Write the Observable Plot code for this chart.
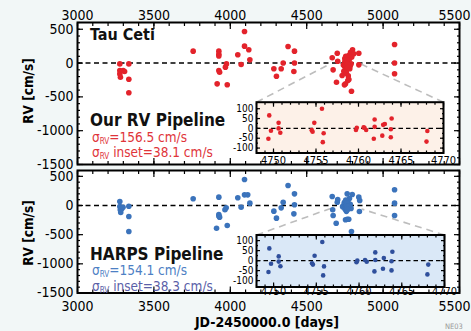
<!DOCTYPE html>
<html><head><meta charset="utf-8">
<script src="https://cdn.jsdelivr.net/npm/d3@7"></script>
<script src="https://cdn.jsdelivr.net/npm/@observablehq/plot@0.6"></script>
<style>
html,body{margin:0;padding:0;background:#f2f7f7;}
#c{position:relative;width:471px;height:331px;overflow:hidden;font-family:"Liberation Sans Narrow","DejaVu Sans Condensed","Arial Narrow",sans-serif;}
#c svg{position:absolute;left:0;top:0;overflow:visible;}
.lbl{position:absolute;white-space:nowrap;line-height:1;}
.sig{font-size:13.5px;}
.sig sub{font-size:60%;vertical-align:-0.3em;line-height:0;}
.ttl{font-weight:bold;font-size:17px;color:#111;}
.rot{transform:translate(-50%,-50%) rotate(-90deg);font-weight:bold;font-size:13.5px;}
</style></head><body><div id="c"></div>
<script>
// ---------- DATA ----------
const xMajorTicks = [3000, 3500, 4000, 4500, 5000, 5500];
const yMajorTicks = [500, 0, -500, -1000, -1500];
const insetXTicks = [4750, 4755, 4760, 4765, 4770];
const insetYTicks = [100, 50, 0, -50, -100];

// Top panel (Our RV Pipeline)
const topDays = [3277,3277,3277,3281,3299,3308,3336,3336,3336,
  3757,
  3925,3925,3925,3925,3930,3914,3980,3975,3968,
  4049,4071,4093,4093,4121,4128,
  4285,4302,4333,4346,4378,4420,4420,4416,
  4667,4700,4703,4673,4695,4754,4793,4732,4743,4769,4754,4765,4775,4787,4800,4808,4791,4782,4841,4841,4776,4747,4760,4772,4780,4740,4795,4785,4762,
  5075,5075,5075];
const topRV = [-12,-110,-160,-209,-110,-125,-12,-239,-440,
  176,
  176,130,105,-110,-135,-307,-320,-12,-60,
  122,-22,467,250,196,48,
  -85,-194,-85,0,245,176,0,-125,
  78,146,28,-100,-283,-307,-416,-184,-120,-258,-61,38,112,161,196,137,-11,-85,146,-26,-243,-322,-150,-190,60,-30,90,-40,-100,
  275,0,-158];
const topInsetDays = [4749.5,4749.7,4749.4,4750.6,4750.6,4750.8,4754.8,4754.5,4754.6,4755.7,4755.9,4755.8,
  4759.7,4759.8,4760.6,4760.7,4760.9,4761.9,4761.9,4761.8,4762.9,4763.1,4762.8,4763.9,4763.8,4763.8,4768.1,4768.0];
const topInsetRV = [66,-12,-53,28,0,-22,28,-9,-17,100,-25,-70,
  -8,3,5,3,-8,45,8,-53,18,22,-37,50,-4,-45,-13,-67];

// Bottom panel (HARPS Pipeline)
const botDays = [3277,3277,3280,3283,3290,3298,3336,3336,3336,
  3757,
  3925,3925,3930,3925,3910,3980,3973,3965,
  4049,4071,4093,4093,4114,4128,
  4285,4302,4333,4346,4378,4420,4420,4416,
  4667,4670,4673,4693,4793,4754,4765,4775,4700,4765,4798,4841,4847,4845,4703,4745,4760,4780,4790,4735,4770,4785,
  5075,5075,5075];
const botRV = [69,-17,-74,-120,-57,-29,-12,-188,-446,
  115,
  143,-154,-200,-180,-389,-343,-40,-74,
  132,-29,446,183,183,40,
  -97,-217,-40,57,343,200,12,-143,
  154,-74,-171,-303,-446,-245,-235,-235,57,200,189,143,86,-103,100,40,-100,120,-50,-20,60,20,
  269,40,-171];
const botInsetDays = [4749.5,4749.7,4749.4,4750.6,4750.6,4750.8,4754.8,4754.5,4754.6,4755.7,4755.9,4755.8,
  4759.7,4759.8,4760.7,4760.9,4761.9,4761.9,4761.8,4762.9,4762.8,4763.9,4763.8,4763.8,4768.1,4768.0];
const botInsetRV = [61,-16,-57,21,-5,-28,24,-13,-20,93,-29,-74,
  -8,0,3,-6,41,3,-54,13,-41,44,-3,-49,-20,-69];

// zoom connector targets (day, rv) on the main panels
const topLinkTargets = [[4650,-15],[4855,-15]];
const botLinkTargets = [[4656,-50],[4859,-60]];

// ---------- LAYOUT ----------
const W = 471, H = 331, L = 77, R = 459;
const FONT = '"Liberation Sans Narrow","DejaVu Sans Condensed","Arial Narrow",sans-serif';
const fmt = d => String(d);
const c = document.getElementById("c");

function ticksX(anchor, vals, size) {
  return Plot.axisX(vals, {anchor, tickSize: -size, tickFormat: () => "", label: null, strokeWidth: 1.2});
}
function ticksY(anchor, vals, size) {
  return Plot.axisY(vals, {anchor, tickSize: -size, tickFormat: () => "", label: null, strokeWidth: 1.2});
}

function mainPanel(cfg) {
  const data = cfg.days.map((d, i) => ({day: d, rv: cfg.rv[i]}))
    .concat(cfg.insetDays.map((d, i) => ({day: d, rv: cfg.insetRV[i]})));
  const sx = d3.scaleLinear([3000, 5500], [L, R]);
  const sy = d3.scaleLinear([-1500, 600], [cfg.bottom, cfg.top]);
  const b = cfg.box;
  const links = [
    {x1: sx.invert(b.left), y1: sy.invert(b.top), x2: cfg.linkTo[0][0], y2: cfg.linkTo[0][1]},
    {x1: sx.invert(b.right), y1: sy.invert(b.top), x2: cfg.linkTo[1][0], y2: cfg.linkTo[1][1]}
  ];
  const xMinor = d3.range(3000, 5501, 100);
  const yMinor = d3.range(-1500, 601, 100);
  const pad = cfg.xLabels === "top" ? 3 : 8;
  const marks = [
    Plot.frame({fill: "white", stroke: "none"}),
    Plot.ruleY([0], {stroke: "black", strokeWidth: 1.6, strokeDasharray: "5,3.5"}),
    Plot.link(links, {x1: "x1", y1: "y1", x2: "x2", y2: "y2", stroke: "#bdbdbd", strokeWidth: 1.6, strokeDasharray: "7,5"}),
    Plot.dot(data, {x: "day", y: "rv", r: 2.8, fill: cfg.color}),
    ticksX("top", xMinor, 3), ticksX("top", xMajorTicks, 6),
    ticksX("bottom", xMinor, 3), ticksX("bottom", xMajorTicks, 6),
    ticksY("left", yMinor, 3), ticksY("left", yMajorTicks, 6),
    ticksY("right", yMinor, 3), ticksY("right", yMajorTicks, 6),
    Plot.axisY(yMajorTicks, {anchor: "left", tickSize: 0, tickPadding: 4, label: null, fontSize: 14, tickFormat: fmt}),
    Plot.axisX(xMajorTicks.slice(0, -1), {anchor: cfg.xLabels, tickSize: 0, tickPadding: pad, label: null, fontSize: 14, tickFormat: fmt}),
    Plot.axisX(xMajorTicks.slice(-1), {anchor: cfg.xLabels, tickSize: 0, tickPadding: pad, label: null, fontSize: 14, tickFormat: fmt, dx: -5}),
    Plot.frame({stroke: "black", strokeWidth: 2})
  ];
  const svg = Plot.plot({
    width: W, height: H,
    marginLeft: L, marginRight: W - R, marginTop: cfg.top, marginBottom: H - cfg.bottom,
    x: {domain: [3000, 5500], axis: null},
    y: {domain: [-1500, 600], axis: null},
    style: {background: "transparent", fontFamily: FONT, fontSize: "14px", color: "black", overflow: "visible"},
    marks
  });
  c.appendChild(svg);
}

function insetPanel(cfg) {
  const data = cfg.days.map((d, i) => ({day: d, rv: cfg.rv[i]}));
  const b = cfg.box;
  const svg = Plot.plot({
    width: W, height: H,
    marginLeft: b.left, marginRight: W - b.right, marginTop: b.top, marginBottom: H - b.bottom,
    x: {domain: [4748, 4770], axis: null},
    y: {domain: cfg.yDomain, axis: null},
    style: {background: "transparent", fontFamily: FONT, fontSize: "10px", color: "black", overflow: "visible"},
    marks: [
      Plot.frame({fill: cfg.fill, stroke: "none"}),
      Plot.ruleY([0], {stroke: "black", strokeWidth: 1.4, strokeDasharray: "4.5,3"}),
      Plot.dot(data, {x: "day", y: "rv", r: 2.3, fill: cfg.color}),
      ticksX("bottom", d3.range(4748, 4771, 1), 2), ticksX("bottom", insetXTicks, 4),
      ticksX("top", d3.range(4748, 4771, 1), 2), ticksX("top", insetXTicks, 4),
      ticksY("left", d3.range(-100, 101, 25), 2), ticksY("left", insetYTicks, 4),
      ticksY("right", d3.range(-100, 101, 25), 2), ticksY("right", insetYTicks, 4),
      Plot.axisY(insetYTicks, {anchor: "left", tickSize: 0, tickPadding: 3, label: null, fontSize: 10, tickFormat: fmt}),
      Plot.axisX(insetXTicks, {anchor: "bottom", tickSize: 0, tickPadding: cfg.xPad, label: null, fontSize: 11, tickFormat: fmt}),
      Plot.frame({stroke: "black", strokeWidth: 2})
    ]
  });
  c.appendChild(svg);
}

const topBox = {left: 256, right: 443, top: 101.7, bottom: 152.5};
const botBox = {left: 256, right: 444, top: 234.5, bottom: 286.5};

mainPanel({days: topDays, rv: topRV, insetDays: topInsetDays, insetRV: topInsetRV, color: "#e3232b",
  top: 22, bottom: 164, box: topBox, linkTo: topLinkTargets, xLabels: "top"});
mainPanel({days: botDays, rv: botRV, insetDays: botInsetDays, insetRV: botInsetRV, color: "#3b73bb",
  top: 170, bottom: 292.5, box: botBox, linkTo: botLinkTargets, xLabels: "bottom"});
insetPanel({days: topInsetDays, rv: topInsetRV, color: "#e3232b", fill: "#fdf1e8", box: topBox, yDomain: [-125, 133], xPad: 3});
insetPanel({days: botInsetDays, rv: botInsetRV, color: "#2f4f9c", fill: "#dae8f7", box: botBox, yDomain: [-132, 128], xPad: 0});

// ---------- TEXT ----------
const labels = [
  {html: "Tau Ceti", cls: "ttl", left: 90, top: 27, size: 16},
  {html: "Our RV Pipeline", cls: "ttl", left: 90, top: 112},
  {html: "σ<sub>RV</sub>=156.5 cm/s", cls: "sig", left: 92, top: 130.8, color: "#e0343a"},
  {html: "σ<sub>RV</sub> inset=38.1 cm/s", cls: "sig", left: 92, top: 146.2, color: "#e0343a"},
  {html: "HARPS Pipeline", cls: "ttl", left: 90, top: 245.5},
  {html: "σ<sub>RV</sub>=154.1 cm/s", cls: "sig", left: 92, top: 264.2, color: "#4d80c4"},
  {html: "σ<sub>RV</sub> inset=38.3 cm/s", cls: "sig", left: 92, top: 279.8, color: "#5b5fa8"},
  {html: "RV [cm/s]", cls: "rot", left: 29, top: 91},
  {html: "RV [cm/s]", cls: "rot", left: 29, top: 233},
];
for (const l of labels) {
  const d = document.createElement("div");
  d.className = "lbl " + l.cls;
  d.innerHTML = l.html;
  d.style.left = l.left + "px";
  d.style.top = l.top + "px";
  if (l.color) d.style.color = l.color;
  if (l.size) d.style.fontSize = l.size + "px";
  c.appendChild(d);
}
const xl = document.createElement("div");
xl.className = "lbl";
xl.textContent = "JD-2450000.0 [days]";
Object.assign(xl.style, {left: "267px", top: "314.5px", transform: "translateX(-50%)", fontWeight: "bold", fontSize: "14px"});
c.appendChild(xl);
const ne = document.createElement("div");
ne.className = "lbl";
ne.textContent = "NE03";
Object.assign(ne.style, {left: "445px", top: "323px", fontSize: "7.5px", color: "#9a9a9a"});
c.appendChild(ne);
</script></body></html>
